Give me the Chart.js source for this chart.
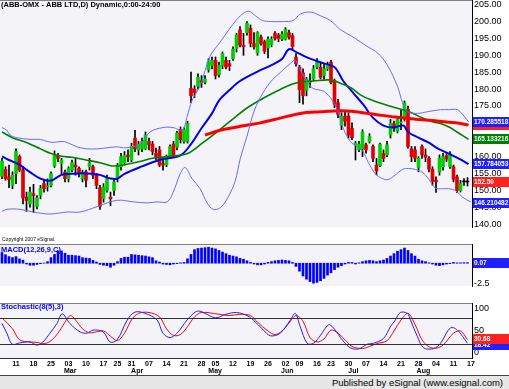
<!DOCTYPE html>
<html>
<head>
<meta charset="utf-8">
<script src="https://cdn.jsdelivr.net/npm/chart.js@4.4.0/dist/chart.umd.min.js"></script>
<style>
  body { margin: 0; width: 509px; height: 389px; overflow: hidden; position: relative; background: #fff; }
  canvas { position: absolute; left: 0; }
  #price { top: 0; }
  #macd { top: 244px; }
  #stoch { top: 303px; }
  #foot { position: absolute; left: 0; top: 375px; width: 503px; height: 14px; padding-right: 6px;
          background: #e6e6e6; border-top: 1px solid #444; text-align: right;
          font: 9.5px "Liberation Sans", Arial, sans-serif; line-height: 13px; color: #000; }
</style>
</head>
<body>
<canvas id="price" width="509" height="244"></canvas>
<canvas id="macd" width="509" height="59"></canvas>
<canvas id="stoch" width="509" height="72"></canvas>
<div id="foot">Published by eSignal (www.esignal.com)</div>
<script>
// x axis: one slot per trading day, Feb 5 2008 = 0
const weekIdx = [4, 9, 14, 19, 24, 29, 33, 37, 42, 47, 52, 57, 61, 66, 71, 76, 81, 85, 90, 94, 99, 104, 109, 114, 119, 124, 129, 134];
const weekLabels = ['11', '18', '25', '03', '10', '17', '25', '31', '07', '14', '21', '28', '05', '12', '19', '26', '02', '09', '16', '23', '30', '07', '14', '21', '28', '04', '11', '17'];
const months = ['Mar', 'Apr', 'May', 'Jun', 'Jul', 'Aug'];
const monthIdx = [19.5, 38.6, 60.9, 81.5, 100.4, 120.4];

const opens = [154.2, 156.2, 154.0, 151.5,
  155.0, 160.0, 156.0, 148.0, 146.0, 149.0, 145.3, 148.5, 152.0, 151.0,
  151.5, 157.3, 160.3, 158.0, 155.4, 153.5, 156.0, 157.5, 156.5, 153.5,
  155.5, 157.0, 157.0, 154.5, 150.8, 147.5, 150.0, 148.0, 150.0, 153.5,
  157.0, 158.2, 160.5, 159.0, 165.5, 162.0, 162.3, 162.3, 164.5, 163.7,
  161.0, 162.0, 158.0, 157.6, 160.0, 163.7, 162.8, 168.0, 164.5, 164.5,
  180.2, 180.0, 180.8, 182.5, 182.0, 185.7, 187.0, 188.5, 184.3, 187.0,
  188.5, 187.5, 189.0, 192.0, 197.5, 193.0, 196.7, 198.0, 193.5, 190.7,
  195.4, 194.0, 192.2, 193.2, 196.5, 196.0, 194.8, 194.8, 196.7, 195.8,
  189.5, 186.5, 184.8, 179.6, 182.0, 183.0, 186.5, 186.5, 184.0, 186.0,
  188.0, 182.5, 176.0, 169.2, 172.0, 172.0, 168.4, 163.5, 162.0, 162.3,
  163.5, 164.5, 163.0, 157.5, 157.3, 160.9, 160.5, 166.4, 169.8, 167.5,
  170.0, 171.3, 174.0, 162.3, 162.0, 156.8, 163.0, 160.5, 159.5, 156.3,
  153.0, 155.4, 157.0, 160.3, 157.0, 157.0, 154.0, 150.0, 152.5, 152.5];
const highs = [159.5, 157.0, 157.5, 155.5,
  162.3, 160.5, 157.0, 149.5, 151.0, 151.8, 148.5, 151.5, 153.0, 153.4,
  155.5, 161.7, 161.0, 159.5, 156.0, 157.0, 159.0, 159.5, 157.0, 156.0,
  156.0, 159.5, 157.5, 155.0, 151.5, 152.0, 154.5, 149.5, 153.0, 158.0,
  161.0, 161.5, 162.0, 164.0, 167.8, 164.5, 165.5, 167.3, 165.5, 164.5,
  162.5, 163.0, 159.0, 160.5, 163.5, 164.5, 167.5, 168.8, 168.5, 170.5,
  185.0, 181.0, 184.5, 184.0, 184.0, 189.0, 189.5, 189.5, 188.0, 191.0,
  189.5, 188.5, 192.5, 196.5, 198.5, 196.5, 200.0, 199.0, 196.7, 197.0,
  196.0, 194.5, 195.5, 195.5, 197.0, 196.5, 197.0, 198.2, 197.5, 196.5,
  190.5, 187.0, 186.0, 183.5, 184.5, 187.0, 189.0, 188.0, 187.5, 188.0,
  188.5, 183.0, 177.0, 173.0, 173.3, 173.0, 170.0, 164.5, 164.5, 168.0,
  164.0, 166.8, 163.5, 159.5, 164.0, 162.0, 164.5, 171.0, 170.5, 171.5,
  173.8, 176.5, 175.0, 163.0, 163.0, 160.0, 163.5, 162.3, 160.0, 157.0,
  154.0, 160.5, 161.0, 161.0, 161.5, 157.5, 154.5, 153.0, 153.5, 153.8];
const lows = [153.5, 153.0, 150.8, 150.5,
  152.0, 155.5, 146.0, 143.8, 145.0, 143.5, 144.5, 147.5, 149.5, 149.8,
  151.0, 156.8, 158.5, 154.8, 152.5, 152.5, 155.5, 154.5, 154.0, 152.5,
  151.0, 156.0, 153.5, 150.5, 144.4, 146.5, 149.5, 145.5, 148.5, 152.5,
  156.0, 157.5, 158.5, 158.5, 161.5, 160.5, 161.5, 162.0, 162.0, 160.5,
  159.0, 157.0, 156.0, 157.0, 159.5, 160.0, 162.0, 164.0, 164.0, 164.0,
  176.0, 177.5, 180.0, 180.5, 181.5, 185.0, 186.0, 183.0, 183.5, 186.0,
  186.0, 185.5, 188.5, 191.0, 192.5, 190.0, 196.0, 192.5, 191.8, 190.0,
  193.0, 190.5, 189.2, 192.5, 194.5, 194.0, 194.3, 194.5, 194.8, 191.5,
  186.8, 176.0, 175.5, 178.0, 180.5, 182.5, 186.0, 183.0, 183.0, 185.5,
  181.5, 174.5, 171.5, 168.0, 169.0, 165.5, 165.0, 159.0, 161.5, 160.0,
  161.0, 164.0, 158.5, 154.6, 157.0, 158.5, 160.0, 165.5, 167.5, 167.0,
  168.0, 170.5, 162.5, 158.5, 158.5, 155.5, 159.5, 158.5, 155.5, 151.5,
  149.4, 154.5, 156.0, 158.5, 156.5, 152.5, 149.3, 149.5, 151.5, 151.3];
const closes = [158.7, 153.5, 153.2, 154.5,
  161.5, 156.0, 147.8, 147.0, 149.5, 148.5, 147.8, 150.7, 150.5, 151.3,
  155.0, 160.3, 159.5, 159.0, 153.5, 156.5, 158.3, 157.0, 155.0, 155.4,
  153.0, 158.0, 154.5, 151.5, 145.3, 151.0, 153.5, 147.5, 152.5, 157.5,
  160.0, 160.3, 160.0, 163.0, 162.3, 163.7, 164.5, 166.4, 163.5, 161.5,
  160.0, 157.5, 157.5, 160.0, 163.0, 160.5, 167.0, 165.0, 168.0, 169.8,
  178.0, 179.0, 183.5, 182.0, 183.0, 188.0, 188.5, 184.0, 187.0, 190.5,
  186.5, 186.8, 191.8, 196.0, 193.0, 192.5, 199.5, 193.5, 192.5, 196.7,
  193.5, 191.2, 194.8, 194.8, 195.0, 195.0, 196.3, 197.6, 195.4, 192.6,
  187.5, 179.8, 178.0, 183.0, 182.5, 186.0, 188.0, 183.5, 186.0, 187.3,
  182.0, 175.5, 172.5, 172.0, 170.5, 166.4, 165.6, 164.0, 163.7, 167.3,
  162.0, 166.0, 159.5, 155.8, 163.7, 159.5, 163.5, 169.8, 168.4, 171.0,
  170.3, 176.0, 163.0, 160.0, 159.5, 159.5, 160.5, 159.8, 156.3, 152.7,
  152.5, 159.5, 160.0, 159.3, 160.9, 153.3, 150.0, 152.0, 152.5, 152.5];

// overlay lines, [bar, value]
const ma20 = [[0, 160.1], [2, 159.0], [5, 157.6], [8, 155.4], [11, 153.5], [14, 152.9], [17, 154.6], [20, 154.9],
  [23, 155.1], [26, 154.9], [28, 154.6], [31, 153.5], [33, 153.5], [35, 154.9], [40, 157.1], [45, 159.0],
  [51, 160.4], [54, 163.7], [57, 168.4], [60, 172.8], [62, 176.6], [65, 179.7], [68, 182.4], [73, 185.2],
  [77, 187.1], [80, 188.9], [82, 191.8], [84.5, 190.7], [88, 189.0], [92, 187.6], [95, 186.5], [97.5, 182.4],
  [100.4, 178.8], [103.3, 175.3], [106.1, 171.4], [109, 169.2], [111.8, 168.6], [114.7, 169.2], [116, 167.3],
  [119, 165.6], [121.8, 164.2], [124.7, 162.3], [127.6, 160.9], [130.4, 159.5], [133.3, 157.8]];
const ma50 = [[0, 167.3], [3, 165.6], [7, 164.2], [11, 162.3], [14, 160.9], [17, 160.1], [20, 159.8], [24, 159.0],
  [28, 158.2], [31, 157.3], [33, 157.3], [35, 157.6], [40, 158.7], [43, 159.5], [48, 160.1], [53, 160.9],
  [57.5, 164.2], [62, 167.8], [67, 172.0], [70, 174.4], [75, 177.5], [79.5, 179.9], [84, 181.8], [89, 182.4],
  [94, 182.7], [97, 181.6], [100, 180.2], [102.4, 178.3], [106, 176.6], [110, 175.2], [114, 174.0], [117, 173.0],
  [119.6, 171.7], [123, 170.3], [125.3, 169.8], [128, 168.6], [130, 167.3], [133.3, 165.1]];
const ma200 = [[58, 166.4], [62.3, 167.8], [69.5, 169.2], [73.8, 170.0], [79.5, 171.4], [85.2, 172.8], [91, 173.3],
  [96.7, 173.6], [101, 173.3], [106.7, 172.5], [112.4, 171.7], [118.1, 171.1], [123.8, 170.6], [129.6, 170.0], [133.3, 169.4]];
const bandUp = [[0, 168.6], [1.4, 167.8], [2.3, 166.4], [4.3, 165.6], [8, 165.1], [10.9, 165.1], [12.9, 164.5],
  [14.6, 164.2], [17.2, 164.5], [18.6, 164.2], [21.4, 162.9], [24.3, 162.3], [27.2, 162.3], [30, 162.6],
  [32.9, 162.9], [35.2, 162.6], [39.5, 163.7], [42.3, 167.3], [46, 168.6], [48.9, 168.6], [51.5, 167.8],
  [52.9, 171.9], [54.3, 176.6], [56.6, 181.0], [59.5, 189.8], [62.4, 194.0], [65.2, 198.1], [68.1, 201.7],
  [70.4, 203.1], [72.4, 201.7], [74.4, 200.3], [76.7, 200.0], [80.4, 200.0], [83.2, 200.3], [85.2, 202.2],
  [88.1, 202.8], [91, 201.7], [93.8, 200.3], [96.7, 197.6], [99.5, 195.9], [102.4, 194.0], [104.4, 192.6],
  [107.3, 190.7], [110.1, 187.1], [113, 180.8], [114.4, 176.1], [115.8, 173.3], [118.7, 172.8], [121.6, 173.3],
  [125.3, 173.9], [127.6, 173.9], [130.1, 173.9], [131.6, 172.5], [133.3, 170.3]];
const bandLow = [[0, 143.8], [1.4, 144.4], [5.1, 144.4], [8.9, 143.6], [13.7, 143.0], [18.6, 143.6], [22.3, 143.6],
  [27.2, 145.2], [30.9, 146.6], [33.8, 147.1], [37.5, 146.6], [41.5, 146.3], [44.3, 146.6], [47.2, 146.6],
  [48.9, 149.4], [50.9, 154.9], [52.3, 156.8], [54.3, 153.5], [56.6, 150.5], [58.6, 146.3], [60.3, 144.4],
  [62.4, 144.9], [64.6, 148.0], [66.6, 152.7], [68.1, 159.5], [70.1, 166.4], [71.8, 172.8], [73.8, 177.5],
  [76.7, 182.1], [79.5, 184.9], [82.4, 187.6], [83.8, 188.5], [85.2, 185.7], [87.2, 182.1], [88.9, 180.2],
  [91.8, 179.4], [93.8, 177.5], [95.8, 173.9], [97.5, 168.4], [99.5, 164.5], [101.5, 162.9], [103, 161.8],
  [104.7, 158.2], [106.7, 154.9], [108.7, 153.5], [110.4, 153.2], [112.4, 154.6], [114.4, 156.2], [116.1, 156.5],
  [118.1, 156.2], [120.1, 155.4], [121.8, 153.5], [123.8, 150.7], [125.9, 150.5], [127.6, 150.5], [129.6, 149.9],
  [131.6, 148.0], [133.9, 146.6]];

const macdHist = [1.34, 1.07, 0.83, 0.71,
  0.83, 0.54, 0.39, -0.1, -0.25, -0.25, -0.15, -0.05, 0.02, 0.2,
  0.7, 1.1, 1.55, 1.55, 1.25, 1.0, 1.0, 0.95, 0.9, 0.7,
  0.65, 0.6, 0.35, 0.15, -0.15, -0.25, -0.3, -0.5, -0.25, 0.2,
  0.6, 0.75, 0.75, 1.1, 1.05, 1.0, 0.95, 0.9, 0.8, 0.7,
  0.3, 0.15, -0.1, -0.15, -0.2, -0.1, -0.05, 0.05, 0.1, 0.55,
  1.1, 1.7, 1.85, 1.9, 1.95, 2.0, 1.9, 1.8, 1.6, 1.4,
  1.2, 1.0, 0.9, 0.8, 0.6, 0.5, 0.3, 0.1, -0.1, -0.2,
  -0.2, -0.1, 0.1, 0.2, 0.3, 0.35, 0.4, 0.35, 0.3, 0.1,
  -0.4, -1.0, -1.6, -2.0, -2.3, -2.5, -2.4, -2.2, -1.9, -1.5,
  -1.2, -0.8, -0.5, -0.3, -0.1, 0.1, 0.1, -0.1, 0.05, 0.2,
  0.3, 0.35, 0.3, 0.2, 0.3, 0.4, 0.6, 0.9, 1.2, 1.5,
  1.7, 1.9, 1.6, 1.2, 0.9, 0.5, 0.3, 0.2, 0.05, -0.1,
  -0.25, -0.3, -0.2, -0.1, -0.05, 0.1, 0.05, 0.05, 0.07, 0.07];

const stochK = [[0, 67], [1.4, 45], [2.9, 20], [5.1, 23], [8, 25], [10, 18], [11.7, 25], [13.7, 45], [15.7, 67],
  [17.2, 89], [19.4, 67], [22.3, 48], [24.3, 45], [26, 52], [28.9, 48], [30.9, 25], [32.9, 30], [35.8, 75],
  [38, 93], [40.9, 90], [44.3, 75], [46, 45], [48, 35], [50, 45], [52.9, 75], [55.2, 93], [56.6, 95], [58, 90],
  [61, 80], [64, 88], [67, 92], [70, 85], [71.8, 75], [74.7, 52], [76.7, 39], [79.5, 45], [82.4, 75], [83.8, 90],
  [85.2, 60], [87.2, 22], [89, 22], [91, 40], [93.3, 64], [94.7, 57], [97.5, 27], [99.5, 12], [101.8, 9],
  [104.4, 20], [106.1, 22], [109, 33], [111, 60], [112.4, 75], [113.8, 92], [115.8, 90], [116.7, 75],
  [118.7, 37], [120.4, 12], [123.3, 10], [125.3, 22], [128.1, 57], [130.1, 52], [133, 22]];
const stochD = [[0, 80], [3, 55], [5, 30], [8, 25], [10, 24], [12, 21], [14, 28], [16, 45], [18, 70], [19.5, 85],
  [21, 75], [23, 55], [25, 46], [27, 48], [29, 50], [31, 38], [33, 28], [35, 45], [37, 75], [39, 90], [42, 92],
  [45, 82], [47, 55], [49, 40], [51, 42], [53, 60], [55, 82], [57, 92], [62, 88], [65, 85], [68, 88], [71, 85],
  [73, 70], [76, 50], [78, 42], [80, 50], [82, 68], [84, 85], [86, 72], [88, 35], [90, 25], [92, 32], [94, 52],
  [96, 45], [98, 30], [100, 15], [103, 10], [105, 15], [107, 21], [110, 28], [112, 50], [114, 75], [116, 90],
  [118, 65], [120, 30], [122, 14], [124, 11], [126, 18], [129, 45], [131, 50], [133, 30.68]];

// last-value tags on the right axis
const priceTags = [
  { v: 169.3, text: '169.348213', bg: '#ff2020' },
  { v: 170.285518, text: '170.285518', bg: '#2020ff' },
  { v: 165.133216, text: '165.133216', bg: '#008000' },
  { v: 157.784053, text: '157.784053', bg: '#2020ff' },
  { v: 152.50, text: '152.50', bg: '#ff2020' },
  { v: 146.210482, text: '146.210482', bg: '#2020ff' }];
const macdTags = [{ v: 0.07, text: '0.07', bg: '#2020ff' }];
const stochTags = [{ v: 18, text: '18.42', bg: '#2020ff' }, { v: 30.68, text: '30.68', bg: '#ff2020' }];

const FONT = '"Liberation Sans", Arial, sans-serif';
const PLOT_BG = '#f4f3f8';
const bars = closes.map((c, j) => j);
const pts = arr => arr.map(p => ({ x: p[0], y: p[1] }));

function xAxis(show) {
  return {
    type: 'linear', min: -0.571, max: 134.286, offset: false, display: show,
    grid: { display: false, drawTicks: false }, border: { display: false },
    afterBuildTicks: s => { s.ticks = weekIdx.map(v => ({ value: v })); },
    afterFit: s => { s.height = 17; s.paddingLeft = 0; s.paddingRight = 0; },
    ticks: { autoSkip: false, maxRotation: 0, padding: 2, color: '#000',
      font: { family: FONT, size: 7, weight: 'bold' },
      callback: (v, k) => weekLabels[k] }
  };
}
function yAxis(min, max, ticks, fmt) {
  return {
    position: 'right', min: min, max: max,
    grid: { display: false, drawTicks: false }, border: { display: true, color: '#000' },
    afterBuildTicks: s => { s.ticks = ticks.map(v => ({ value: v })); },
    afterFit: s => { s.width = 37; s.paddingTop = 0; s.paddingBottom = 0; },
    ticks: { padding: 2, color: '#000', font: { family: FONT, size: 9 }, callback: fmt }
  };
}

const panelBg = {
  id: 'panelBg',
  beforeDraw(chart) {
    const { ctx, chartArea: a } = chart;
    ctx.save();
    ctx.fillStyle = PLOT_BG;
    ctx.fillRect(a.left, a.top, a.right - a.left, a.bottom - a.top);
    ctx.restore();
  }
};

function tagPlugin(tags, label, extra) {
  return {
    id: 'tags',
    afterDraw(chart) {
      const { ctx, chartArea: a, scales } = chart;
      ctx.save();
      ctx.strokeStyle = '#808080';
      ctx.lineWidth = 1;
      ctx.beginPath();
      ctx.moveTo(0, a.top + 0.5); ctx.lineTo(a.right, a.top + 0.5);
      ctx.stroke();
      if (extra) extra(ctx, a, scales);
      ctx.font = 'bold 6.5px ' + FONT;
      ctx.textBaseline = 'middle';
      tags.forEach(t => {
        const y = scales.y.getPixelForValue(t.v);
        ctx.fillStyle = t.bg;
        ctx.fillRect(a.right + 1, Math.round(y) - 5, 36, 10);
        ctx.fillStyle = '#fff';
        ctx.textAlign = 'left';
        ctx.fillText(t.text, a.right + 2, Math.round(y));
      });
      label(ctx, a);
      ctx.restore();
    }
  };
}

const lineDs = (data, color, width, order) => ({
  type: 'line', data: pts(data), borderColor: color, borderWidth: width,
  pointRadius: 0, tension: 0.35, fill: false, order: order
});

new Chart(document.getElementById('price'), {
  type: 'bar',
  data: {
    datasets: [
      lineDs(bandUp, '#6a6aff', 1, 1),
      lineDs(bandLow, '#6a6aff', 1, 1),
      lineDs(ma200, '#ff0000', 3, 1),
      lineDs(ma50, '#008000', 1.6, 1),
      lineDs(ma20, '#0000ee', 2, 1),
      { type: 'bar', data: bars.map(j => ({ x: j, y: [lows[j], highs[j]] })), backgroundColor: '#000',
        barThickness: 1, grouped: false, order: 3 },
      { type: 'bar', data: bars.map(j => ({ x: j, y: [opens[j], closes[j]] })), grouped: false, order: 2,
        backgroundColor: bars.map(j => closes[j] > opens[j] ? '#00d000' : (closes[j] < opens[j] ? '#e00000' : '#000')),
        borderColor: '#000', borderWidth: 0, barThickness: 3, minBarLength: 1 }
    ]
  },
  options: {
    responsive: false, animation: false, events: [],
    layout: { padding: 0 },
    plugins: { legend: { display: false }, tooltip: { enabled: false } },
    scales: { x: xAxis(false), y: yAxis(139.16, 206.38, [140, 145, 150, 155, 160, 165, 170, 175, 180, 185, 190, 195, 200, 205], v => v.toFixed(2)) }
  },
  plugins: [panelBg, tagPlugin(priceTags, (ctx, a) => {
    ctx.fillStyle = '#000';
    ctx.textAlign = 'left';
    ctx.font = 'bold 7.5px ' + FONT;
    ctx.fillText('(ABB-OMX - ABB LTD,D) Dynamic,0:00-24:00', 1, 5);
    ctx.font = '5px ' + FONT;
    ctx.fillText('Copyright 2007 eSignal.', 2, 240);
  })]
});

new Chart(document.getElementById('macd'), {
  type: 'bar',
  data: {
    datasets: [{ data: bars.map(j => ({ x: j, y: macdHist[j] })), backgroundColor: '#0000ff', barThickness: 2, grouped: false }]
  },
  options: {
    responsive: false, animation: false, events: [],
    layout: { padding: 0 },
    plugins: { legend: { display: false }, tooltip: { enabled: false } },
    scales: { x: xAxis(false), y: yAxis(-2.857, 2.41, [-2.5], v => v.toFixed(1)) }
  },
  plugins: [panelBg, tagPlugin(macdTags, (ctx, a) => {
    ctx.fillStyle = '#0000ff';
    ctx.textAlign = 'left';
    ctx.font = 'bold 7.5px ' + FONT;
    ctx.fillText('MACD(12,26,9,C)', 1, 6);
  })]
});

new Chart(document.getElementById('stoch'), {
  type: 'line',
  data: {
    datasets: [
      lineDs(stochD, '#ff0000', 1, 2),
      lineDs(stochK, '#2020ff', 1, 1)
    ]
  },
  options: {
    responsive: false, animation: false, events: [],
    layout: { padding: 0 },
    plugins: { legend: { display: false }, tooltip: { enabled: false } },
    scales: { x: xAxis(true), y: yAxis(-11.4, 113.6, [0, 50, 100], v => String(v)) }
  },
  plugins: [panelBg, tagPlugin(stochTags, (ctx, a) => {
    ctx.fillStyle = '#0000ff';
    ctx.textAlign = 'left';
    ctx.font = 'bold 7.5px ' + FONT;
    ctx.fillText('Stochastic(8(5),3)', 1, 4);
  }, (ctx, a, scales) => {
    ctx.strokeStyle = '#303030';
    [80, 20].forEach(v => {
      const y = Math.round(scales.y.getPixelForValue(v)) + 0.5;
      ctx.beginPath(); ctx.moveTo(a.left, y); ctx.lineTo(a.right, y); ctx.stroke();
    });
    ctx.beginPath(); ctx.moveTo(0, a.bottom + 0.5); ctx.lineTo(a.right, a.bottom + 0.5); ctx.stroke();
    ctx.fillStyle = '#000';
    ctx.font = 'bold 7px ' + FONT;
    ctx.textAlign = 'center';
    ctx.textBaseline = 'middle';
    months.forEach((m, k) => ctx.fillText(m, scales.x.getPixelForValue(monthIdx[k]), a.bottom + 13));
  })]
});
</script>
</body>
</html>
